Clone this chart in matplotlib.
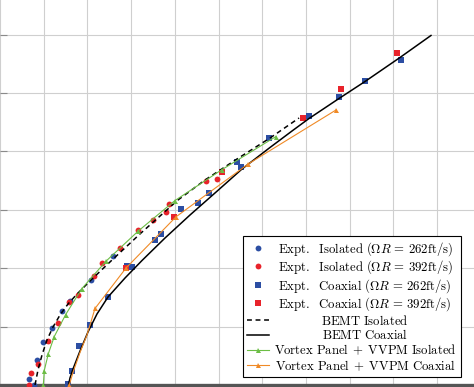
import matplotlib
matplotlib.use("Agg")
import matplotlib.pyplot as plt
from matplotlib.offsetbox import VPacker

plt.rcParams['mathtext.fontset'] = 'cm'
plt.rcParams['font.family'] = ['DejaVu Serif']

# ---------------- data (grid units) ----------------
iso262_x = [0.785, 0.670, 0.840, 0.977, 1.183, 1.412, 1.601, 2.075, 2.578]
iso262_y = [0.003, 0.106, 0.432, 0.728, 0.979, 1.259, 1.430, 1.801, 2.209]

iso392_x = [0.670, 0.709, 0.876, 1.105, 1.334, 1.585, 1.778, 2.151, 2.327,
            2.739, 3.164, 3.489, 3.805, 3.860, 4.713, 4.971]
iso392_y = [0.003, 0.197, 0.368, 0.750, 1.062, 1.413, 1.545, 1.870, 2.086,
            2.346, 2.654, 2.829, 2.957, 3.103, 3.485, 3.531]

coax262_x = [1.549, 1.640, 1.814, 2.059, 2.471, 2.899, 3.013, 3.546, 3.690,
             4.152, 4.530, 4.786, 5.418, 5.525, 6.159, 7.069, 7.763, 8.344, 9.181]
coax262_y = [0.021, 0.236, 0.664, 1.031, 1.515, 2.041, 2.024, 2.486, 2.589,
             3.017, 3.125, 3.288, 3.815, 3.729, 4.224, 4.598, 4.923, 5.197, 5.562]

coax392_x = [2.883, 3.981, 5.086, 6.932, 7.795, 9.089]
coax392_y = [2.003, 2.885, 3.642, 4.568, 5.072, 5.682]

bemt_iso_x = [0.801, 0.869, 0.961, 1.075, 1.213, 1.373, 1.556, 1.762, 2.105,
              2.539, 3.226, 4.072, 4.690, 5.422, 6.177, 6.841]
bemt_iso_y = [0.000, 0.257, 0.514, 0.771, 0.993, 1.199, 1.387, 1.558, 1.815,
              2.123, 2.603, 3.168, 3.510, 3.870, 4.229, 4.572]

bemt_coax_x = [1.567, 1.601, 1.670, 1.830, 2.013, 2.219, 2.471, 2.860, 3.249,
               3.775, 4.347, 4.919, 5.537, 6.177, 6.680, 7.069, 7.756, 8.351,
               9.151, 9.860]
bemt_coax_y = [0.000, 0.120, 0.274, 0.582, 0.908, 1.216, 1.507, 1.832, 2.132,
               2.517, 2.911, 3.288, 3.699, 4.067, 4.349, 4.563, 4.906, 5.197,
               5.608, 5.985]

vp_iso_x = [0.991, 1.013, 1.105, 1.242, 1.503, 1.869, 2.425, 3.164, 4.004, 5.072, 6.314]
vp_iso_y = [0.000, 0.248, 0.534, 0.830, 1.207, 1.647, 2.120, 2.637, 3.159, 3.685, 4.255]

vp_coax_x = [1.585, 1.670, 1.830, 1.990, 2.173, 2.883, 4.027, 5.685, 7.694]
vp_coax_y = [0.000, 0.214, 0.557, 0.856, 1.310, 2.003, 2.880, 3.788, 4.712]
vp_coax_marked = [0, 4, 5, 6, 7, 8]

labels = [r'$\mathrm{Expt.\ \ Isolated\ }(\Omega R\,=\,262\mathrm{ft/s})$',
          r'$\mathrm{Expt.\ \ Isolated\ }(\Omega R\,=\,392\mathrm{ft/s})$',
          r'$\mathrm{Expt.\ \ Coaxial\ }(\Omega R\,=\,262\mathrm{ft/s})$',
          r'$\mathrm{Expt.\ \ Coaxial\ }(\Omega R\,=\,392\mathrm{ft/s})$',
          r'$\mathrm{BEMT\ Isolated}$',
          r'$\mathrm{BEMT\ Coaxial}$',
          r'$\mathrm{Vortex\ Panel}\;+\;\mathrm{VVPM\ Isolated}$',
          r'$\mathrm{Vortex\ Panel}\;+\;\mathrm{VVPM\ Coaxial}$']

BLUE = '#2c4ea3'
RED = '#e8232b'
GREEN = '#6cbd45'
ORANGE = '#f08a26'

W, H = 474, 387
fig = plt.figure(figsize=(W / 100, H / 100), dpi=100)
y0_px = 385.0
ax = fig.add_axes([0, (H - y0_px) / H, 1, y0_px / H])
ax.set_xlim(0, W / 43.71)
ax.set_ylim(0, y0_px / 58.4)
ax.set_xticks(range(0, 11))
ax.set_yticks(range(0, 7))
ax.grid(True, color='#cfcfcf', linewidth=0.8)
ax.set_axisbelow(True)
ax.tick_params(axis='both', labelbottom=False, labelleft=False)
ax.tick_params(axis='y', direction='in', length=5, color='#8a8a8a', width=0.8)
ax.tick_params(axis='x', length=0)
for s in ['top', 'right', 'left']:
    ax.spines[s].set_visible(False)
ax.spines['bottom'].set_color('#555555')
ax.spines['bottom'].set_linewidth(2.4)

h1, = ax.plot(iso262_x, iso262_y, 'o', color=BLUE, ms=4.2, mew=0, zorder=3, clip_on=False)
h2, = ax.plot(iso392_x, iso392_y, 'o', color=RED, ms=4.2, mew=0, zorder=3, clip_on=False)
h3, = ax.plot(coax262_x, coax262_y, 's', color=BLUE, ms=4.0, mew=0, zorder=3, clip_on=False)
h4, = ax.plot(coax392_x, coax392_y, 's', color=RED, ms=4.0, mew=0, zorder=3, clip_on=False)
h5, = ax.plot(bemt_iso_x, bemt_iso_y, color='black', lw=1.1, dashes=(3.2, 2.4), zorder=4)
h6, = ax.plot(bemt_coax_x, bemt_coax_y, color='black', lw=1.1, zorder=4)
h7, = ax.plot(vp_iso_x, vp_iso_y, '-^', color=GREEN, lw=0.8, ms=3.6, mew=0, zorder=5, clip_on=False)
h8, = ax.plot(vp_coax_x, vp_coax_y, '-^', color=ORANGE, lw=0.8, ms=3.6, mew=0, zorder=5,
              markevery=vp_coax_marked, clip_on=False)

fs = 9.2
bp = 0.3
hl = 1.75
htp = 0.3
leg = ax.legend([h1, h2, h3, h4, h5, h6, h7, h8], labels,
                loc='upper left', bbox_to_anchor=(243.3 / W, 1 - 236.0 / H),
                bbox_transform=fig.transFigure, borderaxespad=0,
                frameon=True, fancybox=False, edgecolor='black', framealpha=1,
                fontsize=fs, handlelength=hl, handletextpad=htp,
                borderpad=bp, labelspacing=0.055, numpoints=1)
leg.get_frame().set_linewidth(0.8)
leg.set_zorder(10)

# center each label in a fixed-width text column
fs_px = fs * 100 / 72
text_w = 217.4 - 2 * bp * fs_px - hl * fs_px - htp * fs_px
try:
    col = leg._legend_handle_box.get_children()[0]
    for item in col.get_children():
        ch = item.get_children()
        vp = VPacker(pad=0, sep=0, width=text_w, align='center', children=[ch[1]])
        vp.set_figure(fig)
        ch[1] = vp
except Exception:
    pass

fig.savefig('out.png', dpi=100)
